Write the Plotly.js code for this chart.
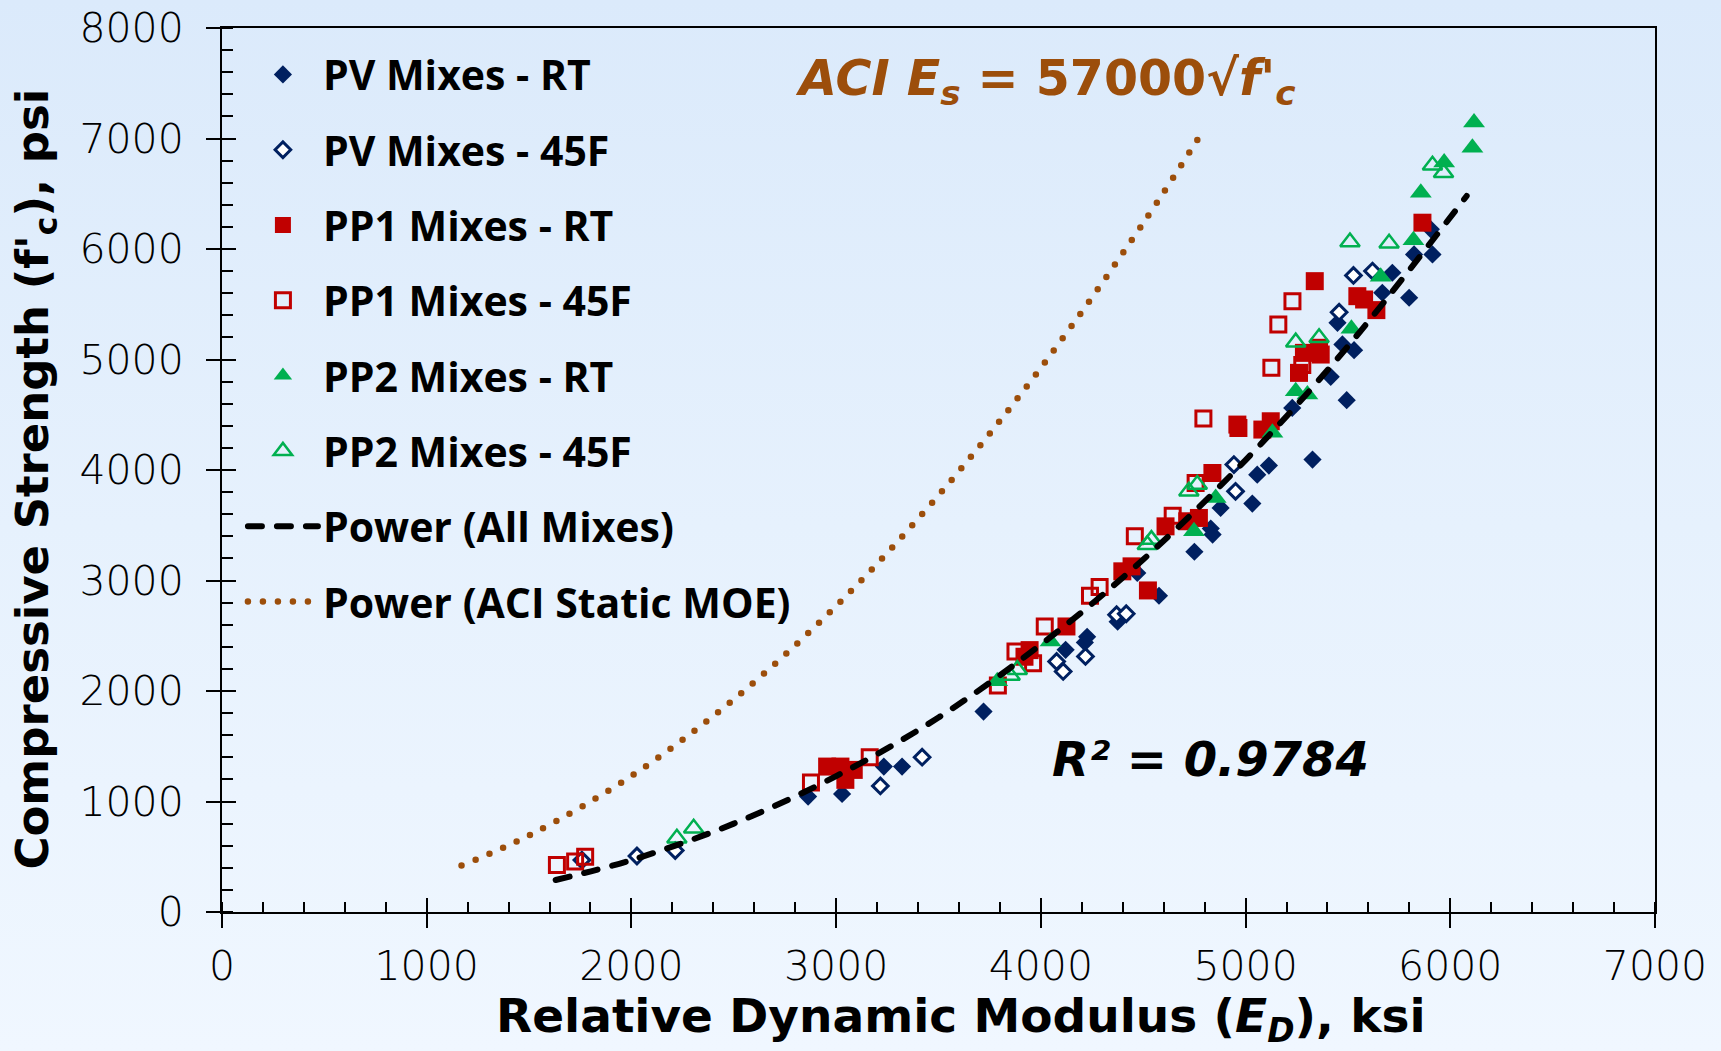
<!DOCTYPE html>
<html><head><meta charset="utf-8">
<script src="https://cdn.plot.ly/plotly-3.0.1.min.js"></script>
<style>
html,body{margin:0;padding:0;width:1721px;height:1051px;overflow:hidden;
background:linear-gradient(to bottom,#dbeafb 0%,#e6f1fd 50%,#f0f7ff 100%);}
#chart{width:1721px;height:1051px;}
.scatterlayer .js-line, .legend .js-line {stroke-linecap:round;}
</style></head><body><div id="chart"></div>
<script>
// PV Mixes - RT
const pvRT_E = [2863,3029,3233,3322,3720,4121,4215,4226,4375,4471,4577,4750,4830,4839,4878,5033,5057,5114,5228,5327,5416,5449,5473,5494,5530,5668,5717,5799,5823,5905,5913];
const pvRT_F = [1045,1069,1316,1316,1814,2373,2440,2490,2627,3068,2862,3260,3470,3416,3657,3696,3958,4040,4562,4094,4843,5332,5136,4632,5084,5604,5785,5559,5951,6178,5951];
// PV Mixes - 45F
const pv45_E = [1758,2027,2214,3216,3420,4077,4109,4218,4370,4417,4943,4951,5457,5527,5620];
const pv45_F = [470,507,556,1141,1401,2267,2177,2313,2690,2699,4049,3807,5428,5761,5800];
// PP1 Mixes - RT
const pp1RT_E = [2956,3021,3045,3086,3920,3945,4125,4398,4443,4523,4609,4715,4772,4838,4960,4965,5082,5123,5261,5285,5359,5367,5338,5546,5579,5639,5864];
const pp1RT_F = [1316,1316,1196,1286,2310,2370,2584,3083,3128,2910,3490,3536,3566,3973,4411,4380,4366,4441,4879,5060,5106,5045,5709,5573,5543,5447,6238];
// PP1 Mixes - 45F
const pp145_E = [1636,1725,1774,2877,3164,3790,3876,3962,4019,4240,4287,4459,4644,4756,4794,5126,5160,5229,5277];
const pp145_F = [426,456,501,1171,1401,2050,2358,2252,2584,2862,2941,3400,3587,3883,4466,4925,5317,5528,4950];
// PP2 Mixes - RT
const pp2RT_E = [3787,4047,4748,4854,5131,5245,5302,5517,5660,5820,5856,5970,6108,6116];
const pp2RT_F = [2089,2448,3445,3747,4336,4713,4683,5278,5749,6080,6510,6782,6917,7144];
// PP2 Mixes - 45F
const pp245_E = [2222,2304,3850,3885,4520,4540,4723,4764,5245,5359,5510,5701,5913,5967];
const pp245_F = [667,758,2140,2193,3324,3370,3807,3868,5157,5196,6063,6051,6757,6691];
// Power (All Mixes) trend line
const trendE = [1630,2000,2500,3000,3500,4000,4500,5000,5500,6080];
const trendF = [290,470,800,1230,1760,2420,3190,4090,5120,6480];
// Power (ACI Static MOE)
const aciE = [1170,1500,2000,2500,3000,3500,4000,4500,4790];
const aciF = [421,693,1231,1924,2770,3771,4925,6233,7062];

const xTicks = [0,1000,2000,3000,4000,5000,6000,7000];
const yTicks = [0,1000,2000,3000,4000,5000,6000,7000,8000];

const xTitle = "Relative Dynamic Modulus (<i>E<sub>D</sub></i>), ksi";
const yTitle = "Compressive Strength (f'<sub>c</sub>), psi";
const aciText = "<i>ACI E<sub>s</sub></i> = 57000√<i>f'<sub>c</sub></i>";
const r2Text = "<i>R² = 0.9784</i>";

const NAVY = '#002060', RED = '#C00000', GREEN = '#00B050', BROWN = '#9C4E0B';

function sc(name, x, y, marker, grp){
  return {type:'scatter', mode:'markers', name:name, x:x, y:y, marker:marker,
          legendgroup:grp, hoverinfo:'skip', cliponaxis:false};
}
const traces = [
  sc('PV Mixes - RT', pvRT_E, pvRT_F, {symbol:'diamond', size:14, color:NAVY, line:{width:0}}, 'g1'),
  sc('PV Mixes - 45F', pv45_E, pv45_F, {symbol:'diamond', size:12, color:'#ffffff', line:{width:3, color:NAVY}}, 'g2'),
  sc('PP1 Mixes - RT', pp1RT_E, pp1RT_F, {symbol:'square', size:18, color:RED, line:{width:0}}, 'g3'),
  sc('PP1 Mixes - 45F', pp145_E, pp145_F, {symbol:'square-open', size:15, color:RED, line:{width:3, color:RED}}, 'g4'),
  sc('PP2 Mixes - RT', pp2RT_E, pp2RT_F, {symbol:'triangle-up', size:19, color:GREEN, line:{width:0}}, 'g5'),
  sc('PP2 Mixes - 45F', pp245_E, pp245_F, {symbol:'triangle-up-open', size:17, color:GREEN, line:{width:2.5, color:GREEN}}, 'g6'),
  {type:'scatter', mode:'lines', name:'Power (All Mixes)', x:trendE, y:trendF, xaxis:'x2', yaxis:'y2',
   line:{color:'#000', width:6, dash:'14px,15px', shape:'spline'}, legendgroup:'g7', hoverinfo:'skip'},
  {type:'scatter', mode:'lines', name:'Power (ACI Static MOE)', x:aciE, y:aciF, xaxis:'x2', yaxis:'y2',
   line:{color:BROWN, width:6.5, dash:'0px,15px', shape:'spline'}, legendgroup:'g8', hoverinfo:'skip'}
];

const tickFont = {family:'DejaVu Sans', size:41, weight:200, color:'#000'};

const layout = {
  width:1721, height:1051,
  margin:{l:222, r:66, t:28, b:139, pad:0},
  paper_bgcolor:'rgba(0,0,0,0)', plot_bgcolor:'rgba(0,0,0,0)',
  font:{family:'DejaVu Sans', color:'#000'},
  showlegend:true,
  legend:{x:0.0146, y:0.985, xanchor:'left', yanchor:'top', bgcolor:'rgba(0,0,0,0)',
          font:{family:'Open Sans', size:41, weight:700, color:'#000'},
          traceorder:'grouped', tracegroupgap:19, itemwidth:70, borderwidth:0},
  xaxis:{range:[0,7000], tickmode:'array', tickvals:xTicks, ticktext:xTicks.map(String),
         ticks:'outside', ticklen:14, tickwidth:2, tickcolor:'#000',
         showline:true, linewidth:2, linecolor:'#000', mirror:true,
         showgrid:false, zeroline:false, fixedrange:true,
         minor:{ticks:'inside', dtick:200, tick0:0, ticklen:10, tickwidth:2, tickcolor:'#000', showgrid:false},
         tickfont:tickFont, ticklabelstandoff:3},
  yaxis:{range:[0,8000], tickmode:'array', tickvals:yTicks, ticktext:yTicks.map(String),
         ticks:'outside', ticklen:14, tickwidth:2, tickcolor:'#000',
         showline:true, linewidth:2, linecolor:'#000', mirror:true,
         showgrid:false, zeroline:false, fixedrange:true,
         minor:{ticks:'inside', dtick:200, tick0:0, ticklen:11, tickwidth:2, tickcolor:'#000', showgrid:false},
         tickfont:tickFont, ticklabelstandoff:14},
  xaxis2:{range:[0,7000], overlaying:'x', anchor:'y', tickmode:'array', tickvals:xTicks,
          ticks:'inside', ticklen:14, tickwidth:2, tickcolor:'#000', showticklabels:false,
          showline:false, showgrid:false, zeroline:false, fixedrange:true},
  yaxis2:{range:[0,8000], overlaying:'y', anchor:'x', tickmode:'array', tickvals:yTicks,
          ticks:'inside', ticklen:14, tickwidth:2, tickcolor:'#000', showticklabels:false,
          showline:false, showgrid:false, zeroline:false, fixedrange:true},
  annotations:[
    {xref:'paper', yref:'paper', x:0.5157, y:-0.1572, xanchor:'center', yanchor:'bottom', showarrow:false,
     text:xTitle, font:{family:'DejaVu Sans', size:47, weight:700, color:'#000'}, borderpad:0},
    {xref:'paper', yref:'paper', x:-0.1308, y:0.4898, xanchor:'center', yanchor:'middle', showarrow:false,
     textangle:-90, text:yTitle, font:{family:'DejaVu Sans', size:45, weight:700, color:'#000'}},
    {xref:'paper', yref:'paper', x:0.575, y:0.939, xanchor:'center', yanchor:'middle', showarrow:false,
     text:aciText, font:{family:'DejaVu Sans', size:49, weight:700, color:BROWN}},
    {xref:'paper', yref:'paper', x:0.690, y:0.173, xanchor:'center', yanchor:'middle', showarrow:false,
     text:r2Text, font:{family:'DejaVu Sans', size:48, weight:700, color:'#000'}}
  ]
};

Plotly.newPlot('chart', traces, layout, {displayModeBar:false, staticPlot:true});
</script></body></html>
